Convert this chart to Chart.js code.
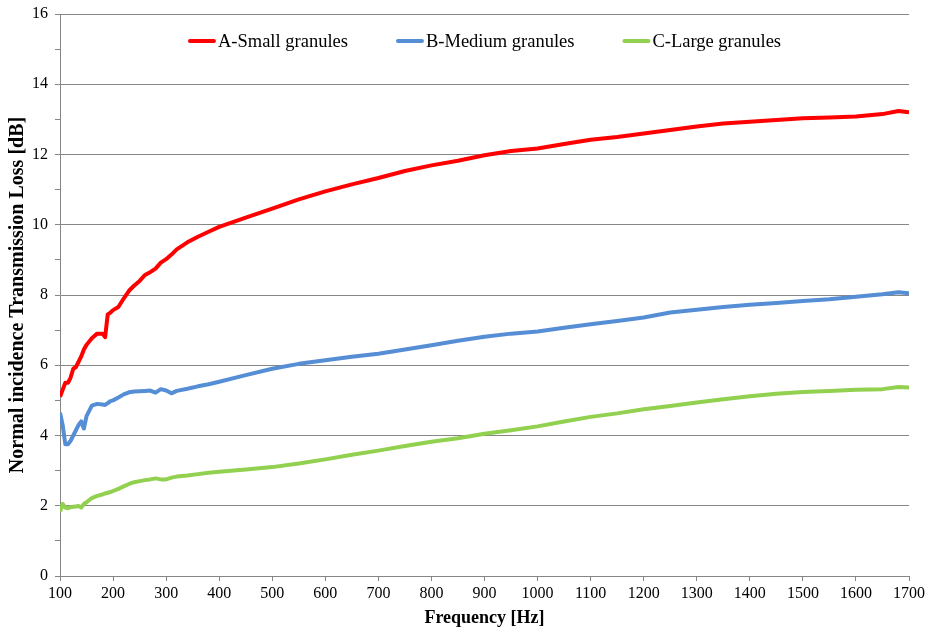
<!DOCTYPE html>
<html>
<head>
<meta charset="utf-8">
<script src="https://cdn.jsdelivr.net/npm/chart.js@4.4.1/dist/chart.umd.min.js"></script>
<style>
  html, body { margin: 0; padding: 0; background: #ffffff; }
  #wrap { width: 929px; height: 631px; }
</style>
</head>
<body>
<div id="wrap"><canvas id="c" width="929" height="631"></canvas></div>
<script>
// Frequency grid [Hz]
const frequency = [100,105,110,115,120,125,130,135,140,145,150,160,170,180,185,190,195,200,210,220,230,240,250,260,270,280,290,300,310,320,340,360,380,400,450,500,550,600,650,700,750,800,850,900,950,1000,1050,1100,1150,1200,1250,1300,1350,1400,1450,1500,1550,1600,1650,1680,1700];

// Normal incidence transmission loss [dB]
const smallGranules = [5.1,5.3,5.5,5.5,5.65,5.9,5.95,6.1,6.25,6.45,6.58,6.77,6.9,6.9,6.8,7.45,7.5,7.57,7.66,7.9,8.12,8.27,8.4,8.57,8.65,8.75,8.92,9.02,9.15,9.3,9.5,9.66,9.8,9.94,10.2,10.46,10.72,10.95,11.15,11.33,11.53,11.69,11.82,11.98,12.1,12.17,12.3,12.42,12.5,12.6,12.7,12.8,12.88,12.93,12.98,13.03,13.05,13.08,13.15,13.24,13.2];
const mediumGranules = [4.65,4.3,3.75,3.75,3.85,4.0,4.15,4.3,4.4,4.2,4.55,4.85,4.9,4.88,4.87,4.92,4.98,5.0,5.08,5.17,5.23,5.25,5.26,5.27,5.28,5.22,5.32,5.28,5.2,5.27,5.33,5.4,5.46,5.53,5.72,5.9,6.04,6.14,6.24,6.33,6.45,6.57,6.7,6.81,6.9,6.96,7.07,7.17,7.26,7.36,7.5,7.58,7.66,7.72,7.77,7.83,7.88,7.95,8.02,8.08,8.05];
const largeGranules = [1.83,2.05,1.95,1.93,1.96,1.97,1.98,1.99,1.95,2.05,2.1,2.22,2.28,2.32,2.35,2.37,2.39,2.42,2.48,2.55,2.62,2.67,2.7,2.73,2.75,2.78,2.75,2.75,2.8,2.83,2.86,2.9,2.94,2.97,3.03,3.1,3.2,3.32,3.45,3.57,3.7,3.82,3.92,4.05,4.15,4.26,4.4,4.53,4.63,4.75,4.84,4.94,5.03,5.12,5.19,5.24,5.27,5.3,5.32,5.38,5.37];

const seriesLabels = ['A-Small granules', 'B-Medium granules', 'C-Large granules'];
const seriesColors = ['#ff0000', '#558ed5', '#92d050'];
const seriesValues = [smallGranules, mediumGranules, largeGranules];

const serif = '"Liberation Serif", "Times New Roman", serif';
const axisGrey = '#868686';

function toPoints(values) {
  return frequency.map((f, i) => ({ x: f, y: values[i] }));
}

// Legend drawn inside the plot area, centred along its top edge
const insideLegend = {
  id: 'insideLegend',
  afterDraw(chart) {
    const ctx = chart.ctx;
    const area = chart.chartArea;
    const font = '18.5px ' + serif;
    const lineLen = 28, lineGap = 2, itemGap = 48;
    ctx.save();
    ctx.font = font;
    const items = chart.data.datasets.map(ds => ({
      label: ds.label, color: ds.borderColor, w: ctx.measureText(ds.label).width
    }));
    let total = 0;
    items.forEach((it, i) => { total += lineLen + lineGap + it.w + (i ? itemGap : 0); });
    let x = (area.left + area.right) / 2 - total / 2;
    const y = area.top + 27;
    items.forEach(it => {
      ctx.strokeStyle = it.color;
      ctx.lineWidth = 4;
      ctx.lineCap = 'round';
      ctx.beginPath();
      ctx.moveTo(x + 2, y);
      ctx.lineTo(x + lineLen - 2, y);
      ctx.stroke();
      ctx.fillStyle = '#000000';
      ctx.textBaseline = 'middle';
      ctx.textAlign = 'left';
      ctx.fillText(it.label, x + lineLen + lineGap, y + 1);
      x += lineLen + lineGap + it.w + itemGap;
    });
    ctx.restore();
  }
};

new Chart(document.getElementById('c'), {
  type: 'line',
  data: {
    datasets: seriesLabels.map((label, i) => ({
      label: label,
      data: toPoints(seriesValues[i]),
      borderColor: seriesColors[i],
      backgroundColor: seriesColors[i],
      borderWidth: 4,
      pointRadius: 0,
      tension: 0,
      borderJoinStyle: 'round',
      fill: false
    }))
  },
  options: {
    responsive: false,
    animation: false,
    layout: { padding: { left: 0, right: 20, top: 14, bottom: 0 } },
    plugins: {
      legend: { display: false },
      tooltip: { enabled: false }
    },
    scales: {
      x: {
        type: 'linear',
        min: 100,
        max: 1700,
        afterFit(scale) {
          scale.height = 55;
          scale.paddingLeft = 0;
          scale.paddingRight = 0;
        },
        ticks: {
          stepSize: 100,
          color: '#000000',
          font: { family: serif, size: 16 },
          padding: 3,
          maxRotation: 0,
          autoSkip: false,
          callback: v => String(v)
        },
        grid: {
          drawOnChartArea: false,
          drawTicks: true,
          tickLength: 5,
          tickColor: axisGrey
        },
        border: { display: true, color: axisGrey, width: 1 },
        title: {
          display: true,
          text: 'Frequency [Hz]',
          color: '#000000',
          font: { family: serif, size: 18, weight: 'bold' },
          padding: { top: 0, bottom: 2 }
        }
      },
      y: {
        type: 'linear',
        min: 0,
        max: 16,
        afterFit(scale) {
          scale.width = 60;
          scale.paddingTop = 0;
          scale.paddingBottom = 0;
        },
        ticks: {
          stepSize: 1,
          color: '#000000',
          font: { family: serif, size: 16 },
          padding: 7,
          callback: v => (v % 2 === 0 ? String(v) : '')
        },
        grid: {
          color: c => (c.tick && c.tick.value % 2 === 0 ? axisGrey : 'rgba(0,0,0,0)'),
          lineWidth: 1,
          drawTicks: true,
          tickLength: 5,
          tickColor: axisGrey
        },
        border: { display: true, color: axisGrey, width: 1 },
        title: {
          display: true,
          text: 'Normal incidence Transmission Loss [dB]',
          color: '#000000',
          font: { family: serif, size: 20, weight: 'bold' },
          padding: { top: 6, bottom: 0 }
        }
      }
    }
  },
  plugins: [insideLegend]
});
</script>
</body>
</html>
